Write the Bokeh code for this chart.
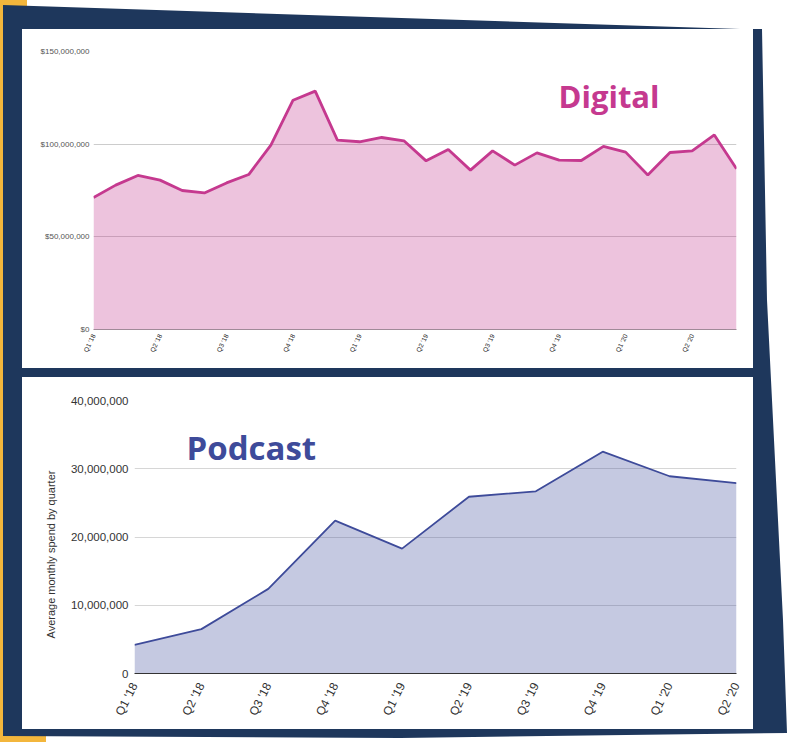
import math
from urllib.parse import quote
from bokeh.plotting import figure
from bokeh.layouts import column, row
from bokeh.models import Range1d, FixedTicker, NumeralTickFormatter, Label, Spacer, Title
from bokeh.embed import file_html
from bokeh.resources import INLINE

# ---------------- data ----------------
months = list(range(30))  # Jan '18 .. Jun '20
digital_spend = [71_200_000, 77_900_000, 83_100_000, 80_600_000, 75_000_000, 73_700_000,
                 79_100_000, 83_600_000, 99_500_000, 123_700_000, 128_600_000, 102_200_000,
                 101_300_000, 103_600_000, 101_800_000, 91_000_000, 97_100_000, 86_000_000,
                 96_400_000, 88_700_000, 95_300_000, 91_400_000, 91_200_000, 98_800_000,
                 95_700_000, 83_400_000, 95_500_000, 96_400_000, 105_000_000, 86_700_000]
quarter_month_ticks = [0, 3, 6, 9, 12, 15, 18, 21, 24, 27]
quarter_labels = ["Q1 '18", "Q2 '18", "Q3 '18", "Q4 '18", "Q1 '19",
                  "Q2 '19", "Q3 '19", "Q4 '19", "Q1 '20", "Q2 '20"]
quarters = list(range(10))
podcast_spend = [4_200_000, 6_500_000, 12_400_000, 22_400_000, 18_300_000,
                 25_900_000, 26_700_000, 32_500_000, 28_900_000, 27_900_000]
digital_yticks = [0, 50_000_000, 100_000_000, 150_000_000]
podcast_yticks = [0, 10_000_000, 20_000_000, 30_000_000, 40_000_000]

# ---------------- style ----------------
NAVY = "#1e375c"
GOLD = "#f3b63c"
PINK = "#c5398f"
BLUE = "#3e4b9a"
W, H = 796, 742
H_TOP = 372
H_BOT = H - H_TOP
FONT = "Liberation Sans"
SHIFT = 32           # horizontal offset of the lower panel's figure
BOT_LEFT = 132 - SHIFT


def pts(xs, ys):
    return " ".join(f"{x},{y}" for x, y in zip(xs, ys))


backdrop = (
    f'<svg xmlns="http://www.w3.org/2000/svg" width="{W}" height="{H}">'
    f'<rect width="{W}" height="{H}" fill="white"/>'
    f'<polygon points="{pts([0, 27, 27, 0], [0, 0, 12, 12])}" fill="{GOLD}"/>'
    f'<polygon points="{pts([0, 4, 4, 0], [0, 0, 742, 742])}" fill="{GOLD}"/>'
    f'<polygon points="{pts([0, 46, 46, 0], [728, 728, 742, 742])}" fill="{GOLD}"/>'
    f'<polygon points="{pts([3, 740, 762, 767, 773, 783, 787, 400, 3], [5, 29, 29, 300, 420, 620, 733, 738, 736])}" fill="{NAVY}"/>'
    f'<rect x="22" y="29" width="731" height="339" fill="white"/>'
    f'<rect x="22" y="377" width="731" height="352" fill="white"/>'
    '</svg>'
)
backdrop_uri = "data:image/svg+xml;charset=utf-8," + quote(backdrop)


def transparent(p):
    p.outline_line_color = None
    p.border_fill_alpha = 0
    p.background_fill_alpha = 0


def no_ticks(ax):
    ax.major_tick_line_color = None
    ax.minor_tick_line_color = None
    ax.major_tick_out = 0
    ax.major_tick_in = 0
    ax.minor_tick_out = 0
    ax.minor_tick_in = 0


# ---------------- top: Digital ----------------
top = figure(width=W, height=H_TOP, output_backend="svg", toolbar_location=None,
             x_range=Range1d(0, 29), y_range=Range1d(0, 150_000_000),
             min_border_left=93, min_border_right=W - 736,
             min_border_top=51, min_border_bottom=H_TOP - 329)
transparent(top)

top.varea(x=months, y1=0, y2=digital_spend, fill_color=PINK, fill_alpha=0.3)
top.line(x=months, y=digital_spend, line_color=PINK, line_width=2.8)

top.xgrid.visible = False
top.ygrid.ticker = FixedTicker(ticks=digital_yticks)
top.ygrid.grid_line_color = "#cccccc"
top.yaxis.ticker = FixedTicker(ticks=digital_yticks)
top.yaxis.formatter = NumeralTickFormatter(format="$0,0")
top.yaxis.axis_line_color = None
no_ticks(top.yaxis)
top.yaxis.major_label_standoff = 4
top.yaxis.major_label_text_font = FONT
top.yaxis.major_label_text_font_size = "8px"
top.yaxis.major_label_text_color = "#555555"

top.xaxis.ticker = FixedTicker(ticks=quarter_month_ticks)
top.xaxis.major_label_overrides = {t: l for t, l in zip(quarter_month_ticks, quarter_labels)}
top.xaxis.axis_line_color = "#a08a98"
no_ticks(top.xaxis)
top.xaxis.major_label_orientation = math.radians(64)
top.xaxis.major_label_standoff = 5
top.xaxis.major_label_text_font = FONT
top.xaxis.major_label_text_font_size = "6.5px"
top.xaxis.major_label_text_color = "#222222"

top.add_layout(Label(x=558, y=95, x_units="canvas", y_units="canvas", text="Digital",
                     text_font="Open Sans", text_font_style="bold", text_font_size="31px",
                     text_color=PINK, text_baseline="middle"))

# ---------------- bottom: Podcast ----------------
BW = W - SHIFT
bot = figure(width=BW, height=H_BOT, output_backend="svg", toolbar_location=None,
             x_range=Range1d(0, 9), y_range=Range1d(0, 40_000_000),
             min_border_left=BOT_LEFT, min_border_right=BW - (736 - SHIFT),
             min_border_top=400 - H_TOP, min_border_bottom=H_BOT - (673 - H_TOP))
transparent(bot)

bot.varea(x=quarters, y1=0, y2=podcast_spend, fill_color=BLUE, fill_alpha=0.3)
bot.line(x=quarters, y=podcast_spend, line_color=BLUE, line_width=1.8)

bot.xgrid.visible = False
bot.ygrid.ticker = FixedTicker(ticks=podcast_yticks)
bot.ygrid.grid_line_color = "#d6d6d6"
bot.yaxis.ticker = FixedTicker(ticks=podcast_yticks)
bot.yaxis.formatter = NumeralTickFormatter(format="0,0")
bot.yaxis.axis_line_color = None
no_ticks(bot.yaxis)
bot.yaxis.major_label_standoff = 6
bot.yaxis.major_label_text_font = FONT
bot.yaxis.major_label_text_font_size = "11.5px"
bot.yaxis.major_label_text_color = "#333333"

bot.add_layout(Title(text="Average monthly spend by quarter", align="left", offset=35,
                     standoff=21, text_font=FONT, text_font_size="11px",
                     text_font_style="normal", text_color="#333333"), "left")

bot.xaxis.ticker = FixedTicker(ticks=quarters)
bot.xaxis.major_label_overrides = {t: l for t, l in zip(quarters, quarter_labels)}
bot.xaxis.axis_line_color = "#333333"
no_ticks(bot.xaxis)
bot.xaxis.major_label_orientation = math.radians(63)
bot.xaxis.major_label_standoff = 10
bot.xaxis.major_label_text_font = FONT
bot.xaxis.major_label_text_font_size = "12px"
bot.xaxis.major_label_text_color = "#333333"

bot.add_layout(Label(x=186 - SHIFT, y=447 - H_TOP, x_units="canvas", y_units="canvas",
                     text="Podcast", text_font="Open Sans", text_font_style="bold",
                     text_font_size="33px", text_color=BLUE, text_baseline="middle"))

layout = column(top, row(Spacer(width=SHIFT, height=H_BOT), bot, spacing=0), spacing=0,
                styles={"background-image": f'url("{backdrop_uri}")',
                        "background-repeat": "no-repeat",
                        "background-size": f"{W}px {H}px"})
open("out.html", "w").write(file_html(layout, INLINE))
